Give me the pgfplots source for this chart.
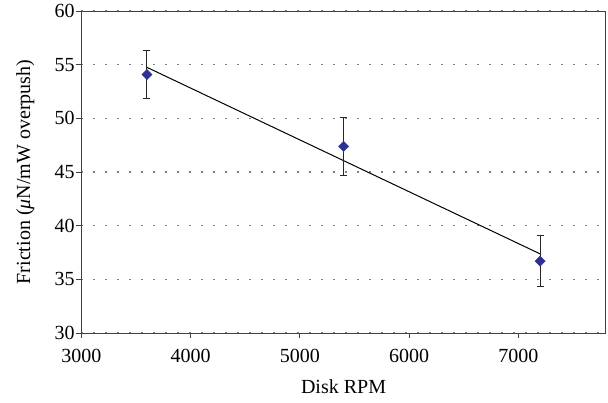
\documentclass[border=0pt]{standalone}
\usepackage{fontspec}
\setmainfont{Liberation Serif}
\usepackage{pgfplots}
\pgfplotsset{compat=1.18}
\definecolor{navy}{RGB}{46,49,146}
\pgfplotstableread{
x y err
3600 54.08 2.25
5400 47.39 2.70
7200 36.70 2.35
}\friction
\begin{document}
\fontsize{20}{24}\selectfont
\begin{tikzpicture}
\path[use as bounding box] (-81.4pt,-69pt) rectangle (526.6pt,333pt);
\begin{axis}[
  at={(0,0)}, anchor=south west,
  scale only axis, width=524.3pt, height=322pt,
  xmin=3000, xmax=7800, ymin=30, ymax=60,
  xtick={3000,4000,5000,6000,7000},
  xticklabels={3000,4000,5000,6000,7000},
  ytick={30,35,40,45,50,55,60},
  yticklabels={30,35,40,45,50,55,60},
  axis line style={draw=black!75, line width=1pt},
  tick style={draw=black!75, line width=1pt},
  tick align=outside, tick pos=left, major tick length=5pt,
  ymajorgrids,
  grid style={draw=gray, line width=1.2pt, dash pattern=on 1.2pt off 10.8pt},
  tick label style={font=\fontsize{20}{24}\selectfont},
  yticklabel style={anchor=east, inner sep=1.5pt},
  xticklabel style={anchor=base, inner sep=0pt, yshift=-24pt},
  every axis x label/.style={at={(axis description cs:0.5,0)}, yshift=-60pt, anchor=base, font=\fontsize{20}{24}\selectfont},
  every axis y label/.style={at={(axis description cs:0,0.5)}, xshift=-56pt, rotate=90, anchor=center, font=\fontsize{20}{24}\selectfont},
  xlabel={Disk RPM},
  ylabel={Friction (\textit{μ}N/mW overpush)},
]
\addplot[black, line width=1pt, no marks] coordinates {(3600,54.75) (7200,37.37)};
\addplot[only marks, mark=square*, mark size=3.6pt, mark options={rotate=45, fill=navy, draw=navy},
  error bars/.cd, y dir=both, y explicit,
  error bar style={line width=1pt, black!85},
  error mark options={rotate=90, mark size=3.5pt, line width=1pt, black!85}]
  table[x=x, y=y, y error=err] {\friction};
\end{axis}
\end{tikzpicture}
\end{document}
